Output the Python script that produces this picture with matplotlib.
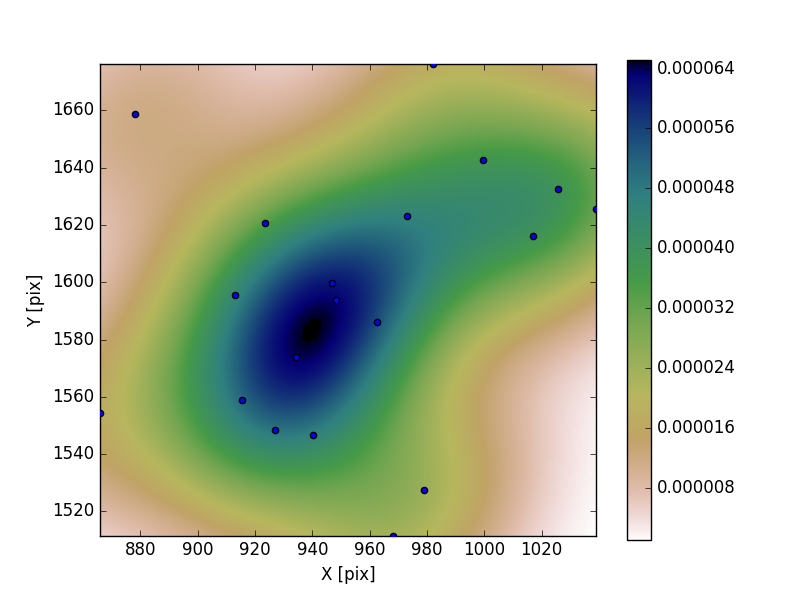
import numpy as np
import matplotlib
matplotlib.use('Agg')
import matplotlib.pyplot as plt

# source positions (pix)
x_pos = [878.2, 923.6, 947.0, 913.1, 948.3, 982.2, 999.6, 1025.8, 1039.0, 973.1,
         1017.1, 865.9, 934.2, 915.6, 927.1, 940.3, 962.5, 979.1, 968.2]
y_pos = [1658.6, 1620.5, 1599.9, 1595.4, 1593.7, 1676.0, 1642.5, 1632.7, 1625.4, 1623.0,
         1616.3, 1554.2, 1573.8, 1558.8, 1548.3, 1546.6, 1586.0, 1527.4, 1511.6]

cbar_ticks = [0.000008, 0.000016, 0.000024, 0.000032, 0.000040, 0.000048, 0.000056, 0.000064]


def gaussian_kde(xs, ys, gx, gy):
    # plain numpy version of scipy's gaussian_kde (Scott's rule)
    data = np.vstack([xs, ys])
    d, n = data.shape
    factor = n ** (-1.0 / (d + 4))
    cov = np.cov(data) * factor ** 2
    inv = np.linalg.inv(cov)
    norm = 1.0 / (2 * np.pi * np.sqrt(np.linalg.det(cov))) / n
    pts = np.vstack([gx.ravel(), gy.ravel()])
    z = np.zeros(pts.shape[1])
    for i in range(n):
        diff = pts - data[:, i:i + 1]
        e = np.sum(diff * (inv @ diff), axis=0) / 2.0
        z += np.exp(-e)
    return (z * norm).reshape(gx.shape)


plt.style.use('classic')

xmin, xmax = min(x_pos), max(x_pos)
ymin, ymax = min(y_pos), max(y_pos)
gx, gy = np.meshgrid(np.linspace(xmin, xmax, 200), np.linspace(ymin, ymax, 200))
Z = gaussian_kde(np.array(x_pos), np.array(y_pos), gx, gy)

fig = plt.figure(figsize=(8, 6), dpi=100)
ax = fig.add_subplot(111)
im = ax.imshow(Z, cmap=plt.cm.gist_earth_r, origin='lower',
               extent=[xmin, xmax, ymin, ymax], interpolation='bilinear')
ax.scatter(x_pos, y_pos, c='b', s=20, edgecolors='k', zorder=3)
ax.set_xlim(xmin, xmax)
ax.set_ylim(ymin, ymax)
ax.set_xlabel('X [pix]')
ax.set_ylabel('Y [pix]')
cb = fig.colorbar(im, ax=ax)
cb.set_ticks(cbar_ticks)
cb.set_ticklabels(['%.6f' % t for t in cbar_ticks])

fig.savefig('out.png', dpi=100)
